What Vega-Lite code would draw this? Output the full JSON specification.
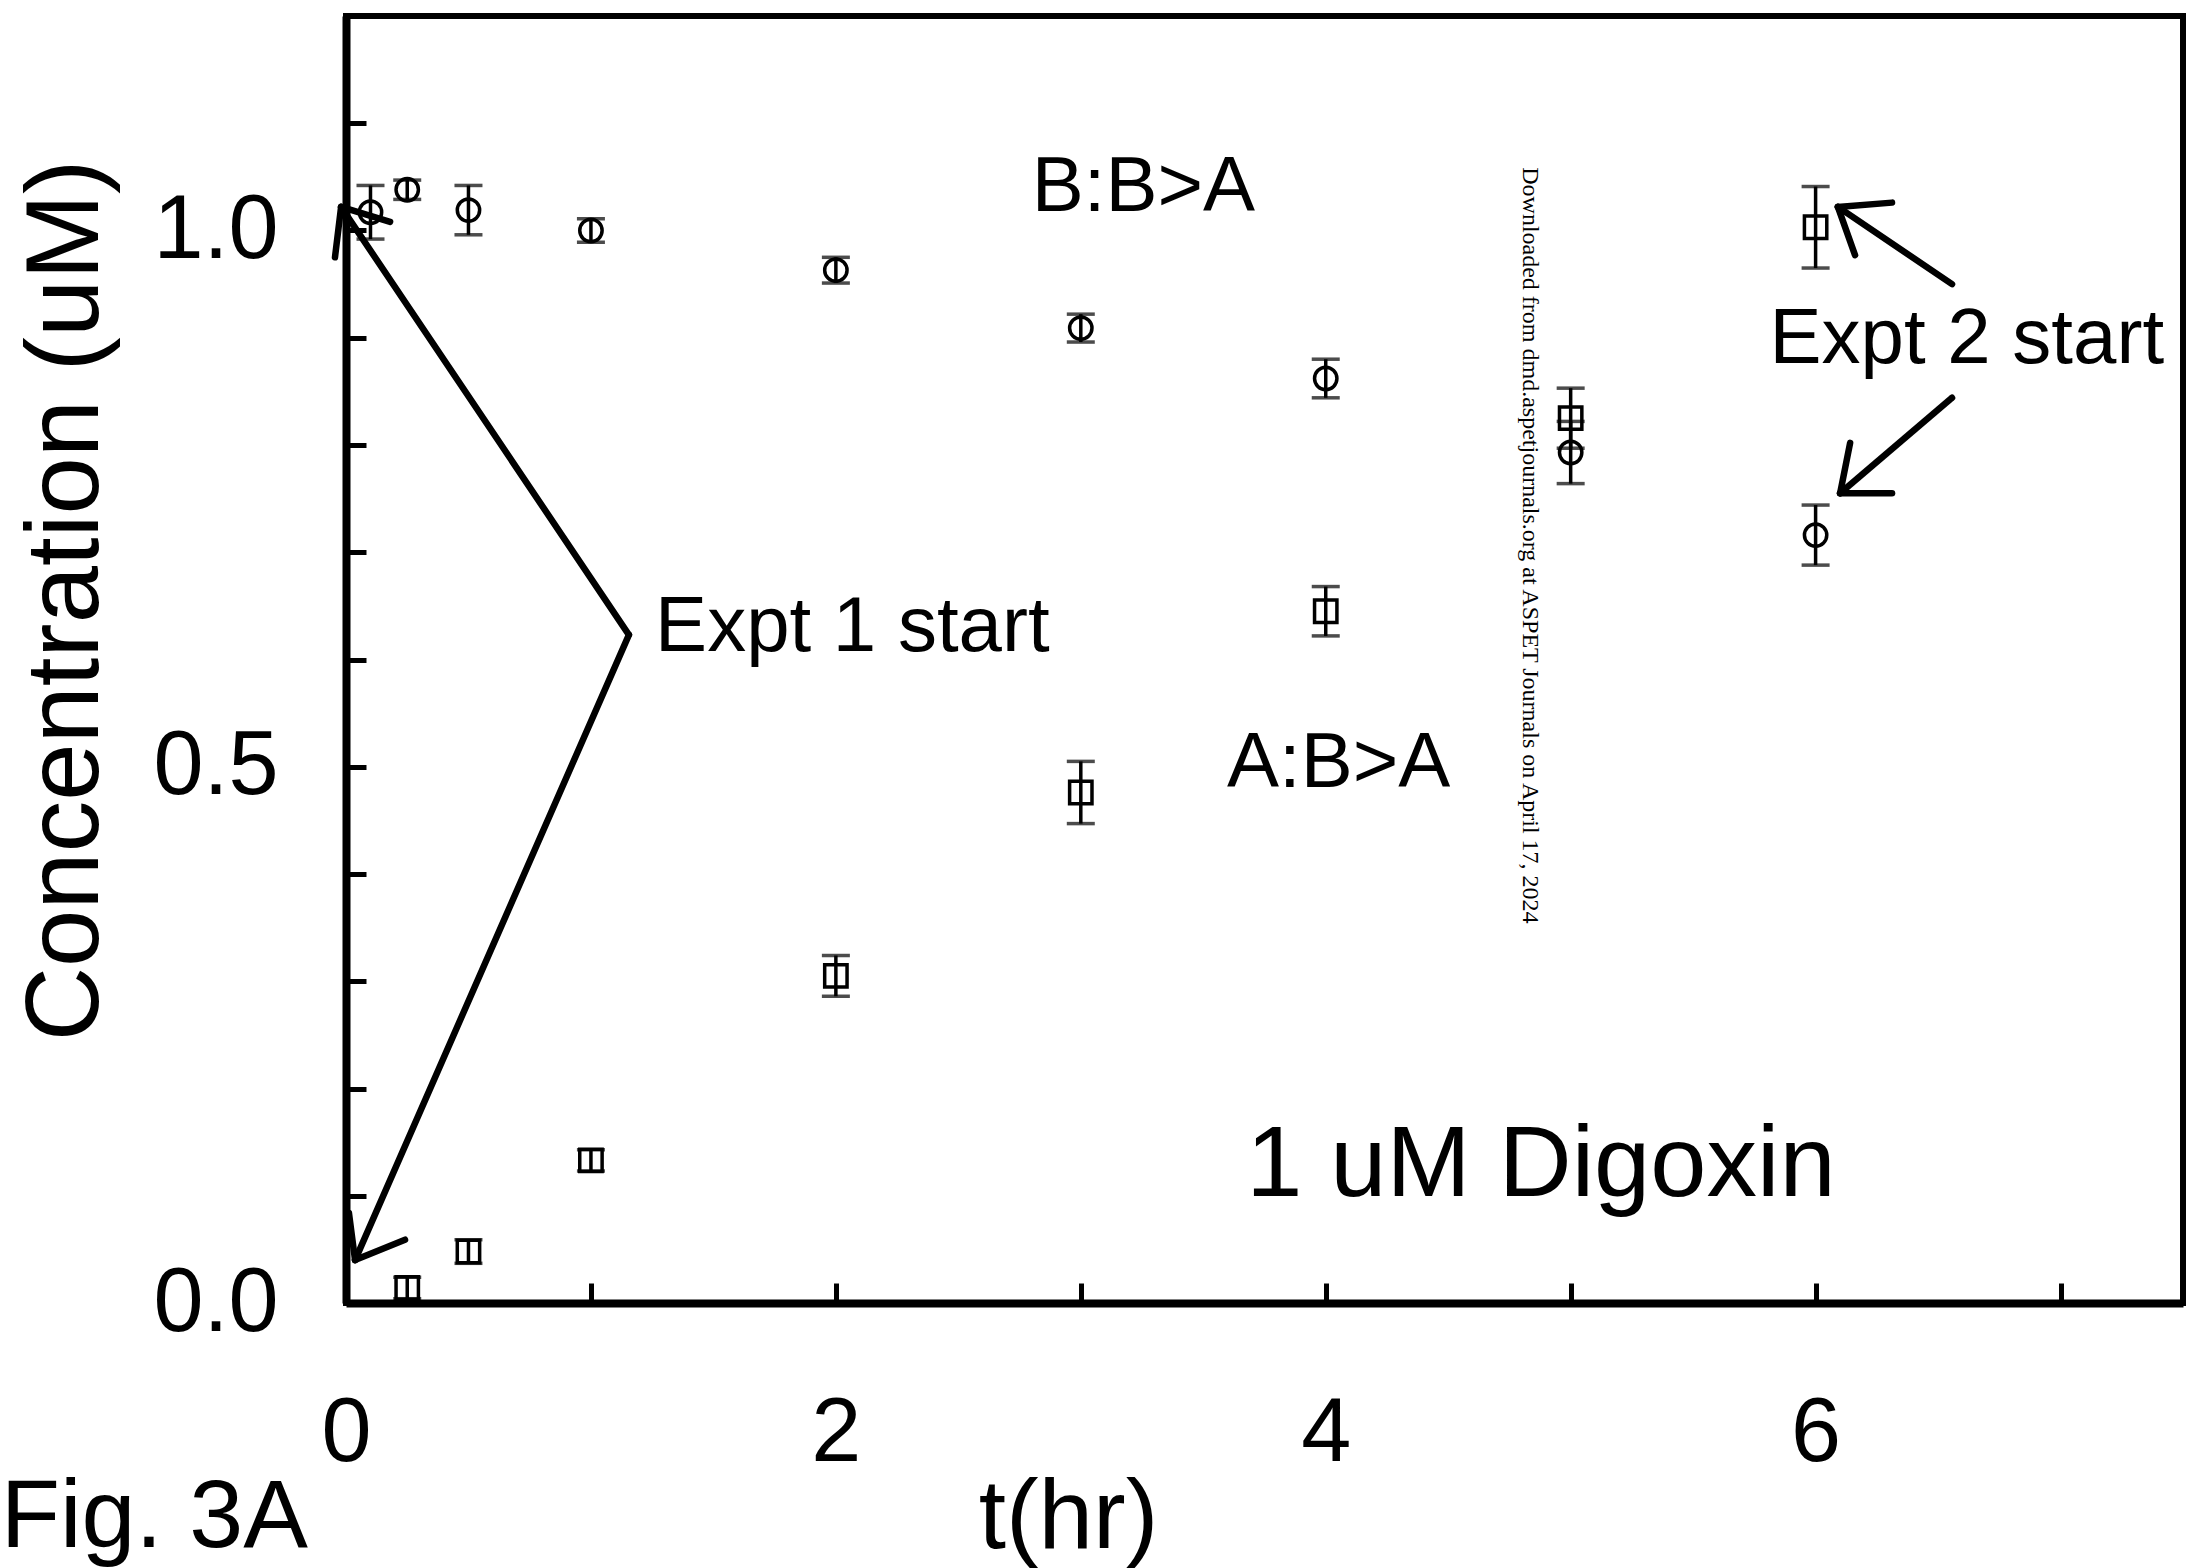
{
  "$schema": "https://vega.github.io/schema/vega-lite/v6.json",
  "width": 1837,
  "height": 1287,
  "autosize": {"type": "none"},
  "padding": {"left": 346, "top": 16, "right": 4, "bottom": 265},
  "background": "white",
  "config": {"view": {"stroke": "black", "strokeWidth": 6}, "font": "Liberation Sans"},
  "datasets": {
    "points": [
      {"series": "B:B>A", "t": 0.1, "conc": 1.017, "err": 0.025},
      {"series": "B:B>A", "t": 0.25, "conc": 1.038, "err": 0.009},
      {"series": "B:B>A", "t": 0.5, "conc": 1.019, "err": 0.023},
      {"series": "B:B>A", "t": 1, "conc": 1.0, "err": 0.011},
      {"series": "B:B>A", "t": 2, "conc": 0.963, "err": 0.012},
      {"series": "B:B>A", "t": 3, "conc": 0.909, "err": 0.013},
      {"series": "B:B>A", "t": 4, "conc": 0.862, "err": 0.018},
      {"series": "B:B>A", "t": 5, "conc": 0.793, "err": 0.029},
      {"series": "B:B>A", "t": 6, "conc": 0.716, "err": 0.028},
      {"series": "A:B>A", "t": 0.25, "conc": 0.014, "err": 0.01},
      {"series": "A:B>A", "t": 0.5, "conc": 0.048, "err": 0.011},
      {"series": "A:B>A", "t": 1, "conc": 0.133, "err": 0.01},
      {"series": "A:B>A", "t": 2, "conc": 0.305, "err": 0.019},
      {"series": "A:B>A", "t": 3, "conc": 0.476, "err": 0.029},
      {"series": "A:B>A", "t": 4, "conc": 0.645, "err": 0.023},
      {"series": "A:B>A", "t": 5, "conc": 0.825, "err": 0.028},
      {"series": "A:B>A", "t": 6, "conc": 1.003, "err": 0.038}
    ],
    "arrows": [
      {"t": 1.155, "conc": 0.623, "t2": -0.02, "conc2": 1.022},
      {"t": -0.02, "conc": 1.022, "t2": -0.045, "conc2": 0.975},
      {"t": -0.02, "conc": 1.022, "t2": 0.18, "conc2": 1.008},
      {"t": 1.155, "conc": 0.623, "t2": 0.037, "conc2": 0.04},
      {"t": 0.037, "conc": 0.04, "t2": 0.241, "conc2": 0.059},
      {"t": 0.037, "conc": 0.04, "t2": 0.012, "conc2": 0.084},
      {"t": 6.557, "conc": 0.95, "t2": 6.091, "conc2": 1.022},
      {"t": 6.091, "conc": 1.022, "t2": 6.312, "conc2": 1.026},
      {"t": 6.091, "conc": 1.022, "t2": 6.161, "conc2": 0.977},
      {"t": 6.557, "conc": 0.844, "t2": 6.1, "conc2": 0.755},
      {"t": 6.1, "conc": 0.755, "t2": 6.312, "conc2": 0.755},
      {"t": 6.1, "conc": 0.755, "t2": 6.141, "conc2": 0.802}
    ],
    "notes": [
      {"label": "B:B>A", "t": 2.8, "conc": 1.018},
      {"label": "A:B>A", "t": 3.597, "conc": 0.481},
      {"label": "Expt 1 start", "t": 1.262, "conc": 0.608},
      {"label": "Expt 2 start", "t": 5.812, "conc": 0.876}
    ],
    "digoxin": [{"label": "1 uM Digoxin", "t": 3.675, "conc": 0.0998}],
    "watermark": [{"label": "Downloaded from dmd.aspetjournals.org at ASPET Journals on April 17, 2024", "t": 4.806, "conc": 1.059}],
    "figlabel": [{"label": "Fig. 3A", "t": -1.41, "conc": -0.2275}]
  },
  "encoding": {
    "x": {
      "field": "t",
      "type": "quantitative",
      "scale": {"domain": [0, 7.5], "nice": false, "zero": false},
      "axis": {
        "title": "t(hr)",
        "values": [0, 1, 2, 3, 4, 5, 6, 7],
        "format": "d",
        "labelExpr": "datum.value % 2 === 0 ? datum.label : ''",
        "grid": false,
        "domainColor": "black",
        "domainWidth": 8,
        "tickColor": "black",
        "tickWidth": 5,
        "tickSize": -20,
        "labelFont": "Liberation Sans",
        "labelFontSize": 90,
        "labelColor": "black",
        "labelBaseline": "alphabetic",
        "labelPadding": 177,
        "labelFlush": false,
        "labelOverlap": false,
        "titleFont": "Liberation Sans",
        "titleFontSize": 98,
        "titleFontWeight": "normal",
        "titleColor": "black",
        "titleX": 722,
        "titleY": 244,
        "titleBaseline": "alphabetic",
        "titleAlign": "center"
      }
    },
    "y": {
      "field": "conc",
      "type": "quantitative",
      "scale": {"domain": [0, 1.2], "nice": false, "zero": false},
      "axis": {
        "title": "Concentration (uM)",
        "values": [0, 0.1, 0.2, 0.3, 0.4, 0.5, 0.6, 0.7, 0.8, 0.9, 1.0, 1.1],
        "labelExpr": "abs(datum.value * 2 - round(datum.value * 2)) < 0.001 ? format(datum.value, '.1f') : ''",
        "grid": false,
        "domainColor": "black",
        "domainWidth": 8,
        "tickColor": "black",
        "tickWidth": 5,
        "tickSize": -20,
        "labelFont": "Liberation Sans",
        "labelFontSize": 90,
        "labelColor": "black",
        "labelAlign": "right",
        "labelBaseline": "middle",
        "labelPadding": 88,
        "labelFlush": false,
        "labelOverlap": false,
        "titleFont": "Liberation Sans",
        "titleFontSize": 103,
        "titleFontWeight": "normal",
        "titleColor": "black",
        "titleAngle": -90,
        "titleX": -249,
        "titleY": 584,
        "titleBaseline": "alphabetic",
        "titleAlign": "center"
      }
    }
  },
  "layer": [
    {
      "data": {"name": "points"},
      "mark": {"type": "errorbar", "thickness": 3.5, "color": "black", "ticks": {"size": 28, "thickness": 3.5, "color": "black"}},
      "encoding": {"yError": {"field": "err"}}
    },
    {
      "data": {"name": "points"},
      "mark": {"type": "point", "filled": false, "size": 500, "strokeWidth": 3.5, "color": "black", "opacity": 1},
      "encoding": {
        "shape": {"field": "series", "type": "nominal", "scale": {"domain": ["B:B>A", "A:B>A"], "range": ["circle", "square"]}, "legend": null}
      }
    },
    {
      "data": {"name": "arrows"},
      "mark": {"type": "rule", "strokeWidth": 6.5, "color": "black", "strokeCap": "round"},
      "encoding": {"x2": {"field": "t2"}, "y2": {"field": "conc2"}}
    },
    {
      "data": {"name": "notes"},
      "mark": {"type": "text", "font": "Liberation Sans", "fontSize": 78, "align": "left", "baseline": "alphabetic", "color": "black"},
      "encoding": {"text": {"field": "label"}}
    },
    {
      "data": {"name": "digoxin"},
      "mark": {"type": "text", "font": "Liberation Sans", "fontSize": 101, "align": "left", "baseline": "alphabetic", "color": "black"},
      "encoding": {"text": {"field": "label"}}
    },
    {
      "data": {"name": "watermark"},
      "mark": {"type": "text", "font": "Liberation Serif", "fontSize": 24, "angle": 90, "align": "left", "baseline": "alphabetic", "color": "black"},
      "encoding": {"text": {"field": "label"}}
    },
    {
      "data": {"name": "figlabel"},
      "mark": {"type": "text", "font": "Liberation Sans", "fontSize": 97, "align": "left", "baseline": "alphabetic", "color": "black"},
      "encoding": {"text": {"field": "label"}}
    }
  ]
}
